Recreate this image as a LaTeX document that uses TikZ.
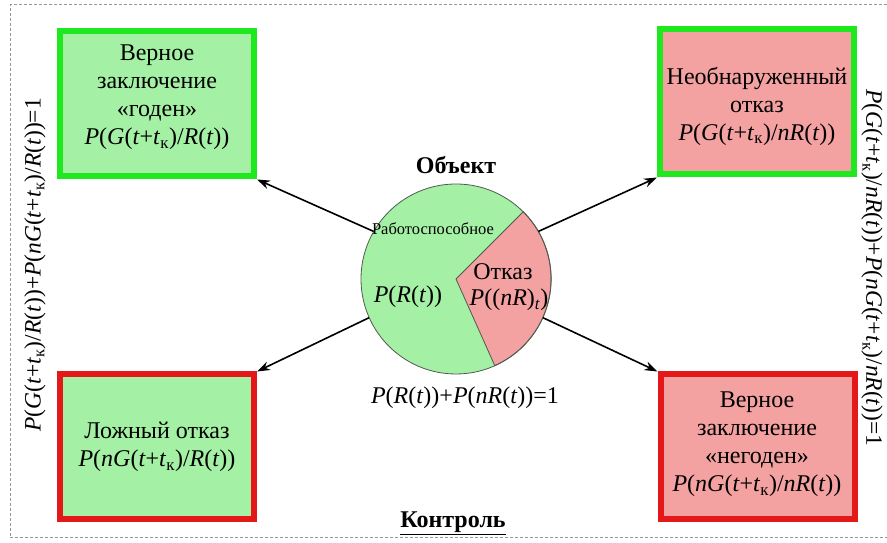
\documentclass[tikz,border=0pt]{standalone}
\usepackage{fontspec}
\setmainfont{Liberation Serif}
\usetikzlibrary{arrows.meta}

\definecolor{okfill}{RGB}{164,240,164}
\definecolor{okline}{RGB}{30,232,30}
\definecolor{badfill}{RGB}{243,161,161}
\definecolor{badline}{RGB}{228,24,24}
\definecolor{framegray}{RGB}{150,150,150}
\definecolor{pieline}{RGB}{80,90,80}

\newcommand\vi[1]{\textit{#1}}
\newcommand\tk{\vi{t}\textsubscript{к}}

\tikzset{
  statebox/.style={rectangle, draw, line width=6pt, minimum width=194pt, minimum height=145pt, inner sep=0pt},
  okbox/.style={statebox, draw=okline, fill=okfill},
  badbox/.style={statebox, draw=badline, fill=badfill},
  okdecbox/.style={statebox, draw=okline, fill=badfill},
  baddecbox/.style={statebox, draw=badline, fill=okfill},
  boxtext/.style={align=center, font=\fontsize{24}{28}\selectfont, inner sep=0pt},
  plain/.style={font=\fontsize{24}{28}\selectfont, inner sep=0pt},
  sidetext/.style={font=\fontsize{23.5}{28}\selectfont, inner sep=0pt},
  arr/.style={line width=1.6pt, -{Stealth[length=13pt, width=9pt]}},
}

\begin{document}
\begin{tikzpicture}[x=1pt, y=1pt]
  \useasboundingbox (0,0) rectangle (887,543);

  % dashed outer frame (open on the right)
  \draw[framegray, line width=1pt, dash pattern=on 3pt off 2pt]
    (887,538) -- (10,538) -- (10,5) -- (887,5);

  % four outcome boxes
  \node[okbox]     (tl) at (157,439) {};
  \node[okdecbox]  (tr) at (757,441) {};
  \node[baddecbox] (bl) at (157,96) {};
  \node[badbox]    (br) at (757.5,96) {};

  \node[boxtext] (tltext) at (157,446) {Верное\\заключение\\«годен»\\\vi{P}(\vi{G}(\vi{t}+\tk)/\vi{R}(\vi{t}))};
  \node[boxtext] (trtext) at (757,437) {Необнаруженный\\отказ\\\vi{P}(\vi{G}(\vi{t}+\tk)/\vi{nR}(\vi{t}))};
  \node[boxtext] (bltext) at (157,96) {Ложный отказ\\\vi{P}(\vi{nG}(\vi{t}+\tk)/\vi{R}(\vi{t}))};
  \node[boxtext] (brtext) at (757,99) {Верное\\заключение\\«негоден»\\\vi{P}(\vi{nG}(\vi{t}+\tk)/\vi{nR}(\vi{t}))};

  % object state pie
  \node[circle, minimum size=190pt, inner sep=0pt] (obj) at (456,264) {};
  \fill[okfill] (obj.center) circle[radius=95pt];
  \filldraw[fill=badfill, draw=pieline, line width=0.8pt]
    (obj.center) -- (obj.45) arc[start angle=45, end angle=-66, radius=95pt] -- cycle;
  \draw[pieline, line width=0.8pt] (obj.center) circle[radius=95pt];

  \node[font=\fontsize{24}{28}\selectfont\bfseries, inner sep=0pt] (objtitle) at (456,378) {Объект};
  \node[font=\fontsize{16.5}{18}\selectfont, inner sep=0pt] (worklabel) at (433,314) {Работоспособное};
  \node[plain] (pwork) at (408,246) {\vi{P}(\vi{R}(\vi{t}))};
  \node[plain] (faillabel) at (503,271) {Отказ};
  \node[plain] (pfail) at (509,243) {\vi{P}((\vi{nR})\textsubscript{\vi{t}})};

  \node[plain] (psum) at (465,145) {\vi{P}(\vi{R}(\vi{t}))+\vi{P}(\vi{nR}(\vi{t}))=1};
  \node[font=\fontsize{24}{28}\selectfont\bfseries, inner sep=0pt] (ctrl) at (453,20) {\underline{Контроль}};

  % side balance equations
  \node[sidetext, rotate=90] (leftsum) at (35,278)
    {\vi{P}(\vi{G}(\vi{t}+\tk)/\vi{R}(\vi{t}))+\vi{P}(\vi{nG}(\vi{t}+\tk)/\vi{R}(\vi{t}))=1};
  \node[sidetext, rotate=-90] (rightsum) at (872,275)
    {\vi{P}(\vi{G}(\vi{t}+\tk)/\vi{nR}(\vi{t}))+\vi{P}(\vi{nG}(\vi{t}+\tk)/\vi{nR}(\vi{t}))=1};

  % connectors from the object to the outcomes
  \draw[arr] (obj.150) -- (tl.south east);
  \draw[arr] (obj.30)  -- (tr.south west);
  \draw[arr] (obj.204) -- (bl.north east);
  \draw[arr] (obj.-24) -- (br.north west);
\end{tikzpicture}
\end{document}
